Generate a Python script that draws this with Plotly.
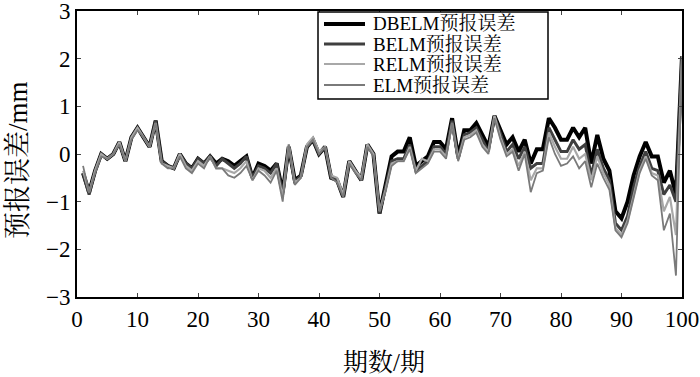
import plotly.graph_objects as go

periods = list(range(1, 101))

dbelm = ([-0.4, -0.8, -0.35, 0.0, -0.1, 0.0, 0.25, -0.15, 0.35, 0.55, 0.35, 0.15, 0.7, -0.15, -0.25, -0.3, 0.0]
         + [-0.2, -0.3, -0.1, -0.2, -0.05, -0.2, -0.1, -0.15, -0.25, -0.15, -0.05, -0.5, -0.2, -0.25, -0.35, -0.2]
         + [-0.8, 0.15, -0.55, -0.45, 0.15, 0.3, 0.0, 0.15, -0.5, -0.55, -0.9, -0.15, -0.35, -0.55, 0.2, 0.0, -1.25, -0.65]
         + [-0.05, 0.05, 0.05, 0.35, -0.25, -0.15, -0.05, 0.25, 0.25, 0.1, 0.75, -0.05, 0.5, 0.5, 0.65, 0.4, 0.15, 0.8, 0.5, 0.2, 0.35, 0.05, 0.3, -0.2, 0.1, 0.1]
         + [0.75, 0.55, 0.3, 0.3, 0.55, 0.35, 0.55, -0.2, 0.4, -0.1, -0.35, -1.2, -1.35, -1.0, -0.45, -0.05, 0.25, -0.05, -0.05, -0.6, -0.35, -0.85, 2.05])

belm = ([-0.4, -0.85, -0.35, 0.0, -0.1, 0.0, 0.25, -0.15, 0.35, 0.55, 0.35, 0.15, 0.7, -0.15, -0.25, -0.3, 0.0]
        + [-0.2, -0.3, -0.1, -0.2, -0.05, -0.25, -0.1, -0.2, -0.3, -0.2, -0.05, -0.5, -0.25, -0.3, -0.4, -0.2]
        + [-0.85, 0.15, -0.6, -0.45, 0.15, 0.3, 0.0, 0.15, -0.5, -0.55, -0.9, -0.15, -0.35, -0.55, 0.2, 0.0, -1.25, -0.7]
        + [-0.15, -0.1, -0.1, 0.2, -0.35, -0.25, -0.15, 0.15, 0.15, 0.0, 0.7, -0.1, 0.4, 0.45, 0.55, 0.3, 0.05, 0.8, 0.4, 0.05, 0.2, -0.1, 0.15, -0.3, -0.2, -0.2]
        + [0.55, 0.3, 0.05, 0.05, 0.3, 0.1, 0.2, -0.45, 0.1, -0.3, -0.55, -1.45, -1.6, -1.3, -0.7, -0.25, 0.05, -0.3, -0.35, -0.85, -0.65, -1.0, 2.05])

relm = ([-0.35, -0.8, -0.35, 0.0, -0.1, 0.0, 0.25, -0.15, 0.35, 0.55, 0.35, 0.15, 0.65, -0.2, -0.25, -0.3, 0.0]
        + [-0.25, -0.35, -0.15, -0.25, -0.05, -0.3, -0.3, -0.35, -0.4, -0.3, -0.15, -0.55, -0.3, -0.35, -0.5, -0.3]
        + [-0.9, 0.2, -0.6, -0.5, 0.2, 0.35, 0.05, 0.15, -0.45, -0.5, -0.85, -0.15, -0.35, -0.5, 0.2, 0.0, -1.2, -0.75]
        + [-0.2, -0.15, -0.15, 0.15, -0.35, -0.1, -0.15, 0.1, 0.1, -0.05, 0.65, -0.1, 0.35, 0.4, 0.5, 0.2, 0.05, 0.8, 0.35, 0.0, 0.1, -0.25, 0.05, -0.55, -0.3, -0.3]
        + [0.45, 0.15, -0.1, -0.1, 0.15, -0.1, 0.0, -0.55, -0.05, -0.4, -0.65, -1.55, -1.7, -1.4, -0.85, -0.35, -0.05, -0.4, -0.45, -1.2, -0.9, -1.7, 2.05])

elm = ([-0.25, -0.8, -0.4, -0.05, -0.1, 0.0, 0.2, -0.15, 0.3, 0.5, 0.35, 0.15, 0.65, -0.2, -0.3, -0.3, -0.05]
       + [-0.3, -0.4, -0.2, -0.3, -0.05, -0.3, -0.3, -0.45, -0.5, -0.4, -0.25, -0.55, -0.35, -0.45, -0.6, -0.35]
       + [-1.0, 0.2, -0.65, -0.5, 0.15, 0.3, 0.0, 0.15, -0.5, -0.6, -0.9, -0.2, -0.4, -0.55, 0.15, -0.05, -1.2, -0.8]
       + [-0.25, -0.15, -0.15, 0.1, -0.4, -0.3, -0.2, 0.05, 0.05, -0.1, 0.65, -0.15, 0.3, 0.35, 0.45, 0.15, 0.0, 0.75, 0.3, -0.05, 0.05, -0.35, 0.0, -0.8, -0.4, -0.35]
       + [0.35, 0.0, -0.25, -0.2, -0.05, -0.3, -0.15, -0.7, -0.2, -0.5, -0.75, -1.6, -1.75, -1.45, -0.9, -0.4, -0.1, -0.45, -0.55, -1.6, -1.25, -2.55, 2.05])

series_names = ["DBELM预报误差", "BELM预报误差", "RELM预报误差", "ELM预报误差"]
series_values = [dbelm, belm, relm, elm]
series_colors = ["#000000", "#3f3f3f", "#a8a8a8", "#7a7a7a"]
series_widths = [4.0, 3.0, 2.2, 1.8]

x_ticks = [0, 10, 20, 30, 40, 50, 60, 70, 80, 90, 100]
y_ticks = [-3, -2, -1, 0, 1, 2, 3]
y_tick_text = ["−3", "−2", "−1", "0", "1", "2", "3"]
x_title = "期数/期"
y_title = "预报误差/mm"

FONT = "Liberation Serif, Noto Serif CJK SC, Noto Sans CJK SC, serif"

# plot-area geometry in pixels
L, R, T, B = 77, 682, 11, 297
W_PX, H_PX = R - L, B - T


def px_x(p):
    return (p - L) / W_PX


def px_y(p):
    return (B - p) / H_PX


fig = go.Figure()
for name, vals, col, w in zip(series_names, series_values, series_colors, series_widths):
    assert len(vals) == 100
    fig.add_trace(go.Scatter(x=periods, y=vals, mode="lines", name=name,
                             line=dict(color=col, width=w), showlegend=False))

shapes = []
annotations = []
# legend box
shapes.append(dict(type="rect", xref="paper", yref="paper",
                   x0=px_x(318), x1=px_x(548), y0=px_y(99), y1=px_y(12),
                   line=dict(color="black", width=1.5), fillcolor="white", layer="above"))
row_y = [24, 44, 64, 85]
for name, col, w, ry in zip(series_names, series_colors, series_widths, row_y):
    shapes.append(dict(type="line", xref="paper", yref="paper",
                       x0=px_x(324), x1=px_x(365), y0=px_y(ry), y1=px_y(ry),
                       line=dict(color=col, width=w), layer="above"))
    annotations.append(dict(text=name, xref="paper", yref="paper", x=px_x(371), y=px_y(ry),
                            xanchor="left", yanchor="middle", showarrow=False,
                            font=dict(family=FONT, size=19, color="black")))

annotations.append(dict(text=x_title, xref="paper", yref="paper", x=px_x(384), y=px_y(362),
                        xanchor="center", yanchor="middle", showarrow=False,
                        font=dict(family=FONT, size=25, color="black")))
annotations.append(dict(text=y_title, xref="paper", yref="paper", x=px_x(18), y=px_y(160),
                        xanchor="center", yanchor="middle", showarrow=False, textangle=-90,
                        font=dict(family=FONT, size=27, color="black")))

fig.update_layout(
    width=700, height=377,
    margin=dict(l=L, r=700 - R, t=T, b=377 - B, autoexpand=False),
    paper_bgcolor="white", plot_bgcolor="white",
    font=dict(family=FONT, color="black", size=20),
    showlegend=False,
    shapes=shapes, annotations=annotations,
)
fig.update_xaxes(range=[0, 100], tickvals=x_ticks, ticks="inside", ticklen=4,
                 showline=True, linecolor="black", linewidth=2, mirror="ticks",
                 showgrid=False, zeroline=False, tickfont=dict(size=23), automargin=False,
                 ticklabeloverflow="allow")
fig.update_yaxes(range=[-3, 3], tickvals=y_ticks, ticktext=y_tick_text, ticks="inside", ticklen=4,
                 showline=True, linecolor="black", linewidth=2, mirror="ticks",
                 showgrid=False, zeroline=False, tickfont=dict(size=23), automargin=False,
                 ticklabeloverflow="allow")

fig.write_html("out.html", config={"displayModeBar": False},
               post_script="document.body.style.margin='0';document.body.style.overflow='hidden';")
